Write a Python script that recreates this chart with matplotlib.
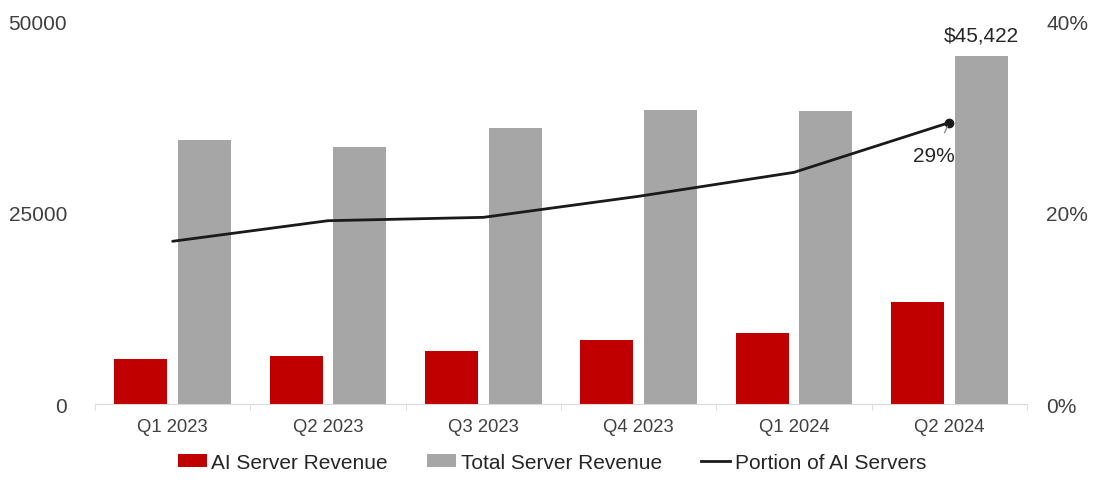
import numpy as np
import matplotlib.pyplot as plt
from matplotlib.lines import Line2D
from matplotlib.ticker import FuncFormatter

quarters = ['Q1 2023', 'Q2 2023', 'Q3 2023', 'Q4 2023', 'Q1 2024', 'Q2 2024']
ai_revenue = [5875, 6270, 6920, 8355, 9270, 13320]
total_revenue = [34470, 33550, 36030, 38380, 38250, 45422]
ai_portion = [17.0, 19.15, 19.5, 21.7, 24.2, 29.4]

red = '#C00000'
grey = '#A6A6A6'
text_col = '#404040'

plt.rcParams['font.family'] = ['Liberation Sans', 'DejaVu Sans']

fig = plt.figure(figsize=(10.97, 4.81), dpi=100)
ax = fig.add_axes([0.0866, 0.158, 0.8496, 0.796])

x = np.arange(len(quarters))
w = 0.34
b1 = ax.bar(x - 0.205, ai_revenue, w, color=red, zorder=2)
b2 = ax.bar(x + 0.205, total_revenue, w, color=grey, zorder=2)

ax.set_xlim(-0.5, len(quarters) - 0.5)
ax.set_ylim(0, 50000)
ax.set_yticks([0, 25000, 50000])
ax.set_xticks(x)
ax.set_xticklabels(quarters)
ax.set_xticks(np.arange(-0.5, len(quarters)), minor=True)
ax.tick_params(axis='x', which='major', length=0, pad=10, labelsize=13.3, labelcolor=text_col)
ax.tick_params(axis='x', which='minor', length=4, color='#D9D9D9')
ax.tick_params(axis='y', length=0, pad=20, labelsize=15, labelcolor=text_col)
for s in ['top', 'left', 'right']:
    ax.spines[s].set_visible(False)
ax.spines['bottom'].set_color('#D9D9D9')

ax2 = ax.twinx()
ax2.set_ylim(0, 40)
ax2.set_yticks([0, 20, 40])
ax2.yaxis.set_major_formatter(FuncFormatter(lambda v, p: '%d%%' % v))
ax2.tick_params(axis='y', length=0, pad=14, labelsize=15, labelcolor=text_col)
for s in ['top', 'left', 'right', 'bottom']:
    ax2.spines[s].set_visible(False)

ax2.plot(x, ai_portion, color='#1a1a1a', lw=2, solid_joinstyle='round', solid_capstyle='round',
         marker='o', markersize=6, markevery=[len(x) - 1], zorder=3)

# labels on last quarter
ax.text(x[-1] + 0.205, total_revenue[-1] + 1500, '${:,}'.format(total_revenue[-1]),
        ha='center', va='bottom', fontsize=15, color='#262626')
ax2.annotate('%d%%' % int(ai_portion[-1]), xy=(x[-1], ai_portion[-1]),
             xytext=(x[-1] - 0.1, ai_portion[-1] - 3.4), ha='center', va='center',
             fontsize=15, color='#262626',
             arrowprops=dict(arrowstyle='-', color='#8C8C8C', lw=1, shrinkA=8, shrinkB=3))

line_handle = Line2D([], [], color='#1a1a1a', lw=2)
fig.legend([b1, b2, line_handle], ['AI Server Revenue', 'Total Server Revenue', 'Portion of AI Servers'],
           loc='center', bbox_to_anchor=(0.503, 0.037), ncol=3, frameon=False,
           fontsize=15, handlelength=1.4, handleheight=0.6, handletextpad=0.2,
           columnspacing=1.9, labelcolor='#262626')

fig.savefig('out.png', dpi=100)
